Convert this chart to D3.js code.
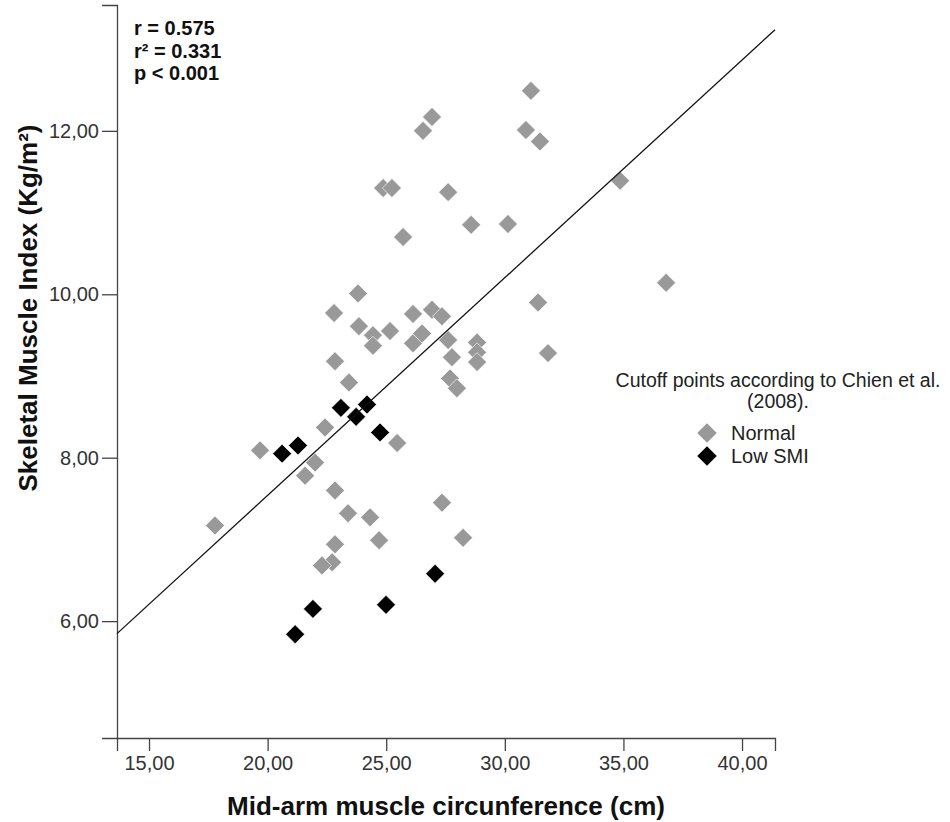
<!DOCTYPE html>
<html>
<head>
    <title>SMI vs MAMC</title>
    <style>
        body { margin: 0; background: #fff; }
        svg { display: block; font-family: Arial, "Liberation Sans", sans-serif; }
        .tick text { fill: #333; }
    </style>
</head>
<body>
    <svg id="chart" width="950" height="822"></svg>

    <script src="https://d3js.org/d3.v7.min.js"></script>
    <script>
        // Data: mid-arm muscle circumference (cm) vs SMI (kg/m²)
        const normalX = [17.78, 19.68, 22.00, 21.58, 22.42, 22.84, 23.39, 24.32, 24.70, 22.84,
                         22.72, 22.29, 27.35, 28.24, 25.46, 23.81, 22.80, 23.85, 24.44, 24.44,
                         25.16, 26.13, 26.13, 22.84, 23.43, 26.93, 26.55, 30.89, 31.48, 24.87,
                         25.24, 27.61, 28.58, 30.13, 25.71, 34.86, 31.40, 26.93, 27.35, 26.51,
                         27.61, 27.77, 28.83, 28.83, 28.83, 31.82, 27.69, 27.98, 36.80, 31.10];
        const normalY = [7.17, 8.09, 7.94, 7.78, 8.37, 7.60, 7.32, 7.27, 6.99, 6.94,
                         6.72, 6.68, 7.45, 7.02, 8.18, 10.01, 9.77, 9.61, 9.50, 9.37,
                         9.55, 9.76, 9.40, 9.18, 8.92, 12.17, 12.00, 12.01, 11.87, 11.30,
                         11.30, 11.25, 10.85, 10.86, 10.70, 11.39, 9.90, 9.81, 9.73, 9.52,
                         9.44, 9.23, 9.41, 9.29, 9.17, 9.28, 8.97, 8.85, 10.14, 12.49];
        const lowX = [20.61, 21.28, 23.09, 24.19, 23.73, 24.74, 27.06, 21.91, 24.99, 21.16];
        const lowY = [8.05, 8.15, 8.61, 8.65, 8.50, 8.31, 6.58, 6.15, 6.20, 5.84];

        const fitIntercept = 2.211, fitSlope = 0.2664;   // fitted line
        const xTicks = [15, 20, 25, 30, 35, 40];
        const yTicks = [6, 8, 10, 12];
        const xDomain = [13.65, 41.39];
        const yDomain = [4.57, 13.54];
        const stats = ["r = 0.575", "r² = 0.331", "p < 0.001"];
        const legendTitle = ["Cutoff points according to Chien et al.", "(2008)."];
        const groups = ["Normal", "Low SMI"];
        const groupColors = ["#999999", "#000000"];

        const svg = d3.select("#chart");
        const plotL = 117, plotR = 775, plotT = 5, plotB = 738;

        const x = d3.scaleLinear().domain(xDomain).range([plotL, plotR]);
        const y = d3.scaleLinear().domain(yDomain).range([plotB, plotT]);
        const fmt = d => d.toFixed(2).replace(".", ",");

        // axes
        const xAxis = svg.append("g")
            .attr("transform", `translate(0,${plotB})`)
            .call(d3.axisBottom(x).tickValues(xTicks).tickFormat(fmt).tickSizeOuter(0).tickSize(13).tickPadding(5));
        const yAxis = svg.append("g")
            .attr("transform", `translate(${plotL},0)`)
            .call(d3.axisLeft(y).tickValues(yTicks).tickFormat(fmt).tickSizeOuter(0).tickSize(15).tickPadding(3));

        [xAxis, yAxis].forEach(a => {
            a.selectAll("path, line").attr("stroke", "#444").attr("stroke-width", 1.3);
            a.selectAll("text").attr("font-size", "20px").attr("font-family", "Arial, 'Liberation Sans', sans-serif");
        });

        // axis titles
        svg.append("text")
            .attr("x", (plotL + plotR) / 2)
            .attr("y", 815)
            .attr("text-anchor", "middle")
            .attr("font-size", "26px")
            .attr("font-weight", "bold")
            .attr("fill", "#111")
            .text("Mid-arm muscle circunference (cm)");

        svg.append("text")
            .attr("transform", "translate(37,308) rotate(-90)")
            .attr("text-anchor", "middle")
            .attr("font-size", "26px")
            .attr("font-weight", "bold")
            .attr("fill", "#111")
            .text("Skeletal Muscle Index (Kg/m²)");

        // points
        const diamond = d3.symbol(d3.symbolSquare, 180);
        const normalPts = normalX.map((v, i) => ({ x: v, y: normalY[i] }));
        const lowPts = lowX.map((v, i) => ({ x: v, y: lowY[i] }));

        const drawPts = (data, color) => svg.append("g")
            .selectAll("path")
            .data(data)
            .join("path")
            .attr("d", diamond)
            .attr("transform", d => `translate(${x(d.x)},${y(d.y)}) rotate(45)`)
            .attr("fill", color)
            .attr("stroke", "#fff")
            .attr("stroke-width", 0.6);

        drawPts(normalPts, groupColors[0]);
        drawPts(lowPts, groupColors[1]);

        // fit line across x range
        svg.append("line")
            .attr("x1", x(xDomain[0]))
            .attr("y1", y(fitIntercept + fitSlope * xDomain[0]))
            .attr("x2", x(xDomain[1]))
            .attr("y2", y(fitIntercept + fitSlope * xDomain[1]))
            .attr("stroke", "#111")
            .attr("stroke-width", 1.3);

        // stats box
        svg.append("g").selectAll("text")
            .data(stats)
            .join("text")
            .attr("x", 134)
            .attr("y", (d, i) => 35 + i * 22.5)
            .attr("font-size", "20px")
            .attr("font-weight", "bold")
            .attr("fill", "#111")
            .text(d => d);

        // legend
        const lg = svg.append("g");
        lg.selectAll("text.title")
            .data(legendTitle)
            .join("text")
            .attr("class", "title")
            .attr("x", 778)
            .attr("y", (d, i) => 387 + i * 21)
            .attr("text-anchor", "middle")
            .attr("font-size", "19.5px")
            .attr("fill", "#222")
            .text(d => d);

        groups.forEach((g, i) => {
            lg.append("path")
                .attr("d", d3.symbol(d3.symbolSquare, 190))
                .attr("transform", `translate(707,${433 + i * 23}) rotate(45)`)
                .attr("fill", groupColors[i]);
            lg.append("text")
                .attr("x", 731)
                .attr("y", 440 + i * 23)
                .attr("font-size", "20px")
                .attr("fill", "#222")
                .text(g);
        });
    </script>
</body>
</html>
